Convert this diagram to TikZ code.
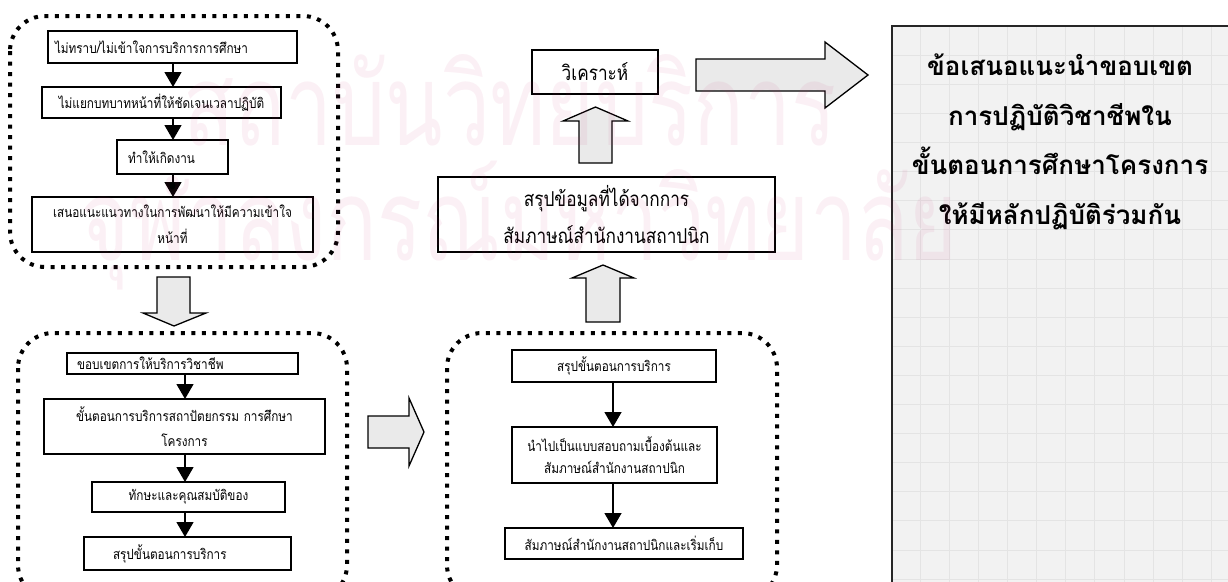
\documentclass[tikz,border=0pt]{standalone}
\usepackage{fontspec}
\usetikzlibrary{arrows.meta}
\newfontfamily\thai[Script=Thai]{Loma}
\newfontfamily\thainarrow[Script=Thai,FakeStretch=0.84]{Loma}
\definecolor{wmpink}{RGB}{205,45,115}
\definecolor{panelfill}{RGB}{242,242,242}
\definecolor{panelgrid}{RGB}{228,228,228}
\definecolor{arrowfill}{RGB}{234,234,234}

\begin{document}
\begin{tikzpicture}[x=1pt,y=-1pt,
  stepbox/.style={draw=black, line width=1.5pt, inner ysep=0pt, outer sep=0pt,
    font=\thainarrow\fontsize{14}{26}\selectfont},
  flow/.style={line width=1.4pt, -{Triangle[width=17pt,length=15pt]}},
  group/.style={line width=4pt, dash pattern=on 4pt off 6.5pt, rounded corners=35pt},
  blockarrow/.style={draw=black, line width=1.3pt, fill=arrowfill, line join=miter},
  bigtext/.style={font=\thainarrow\fontsize{20.5}{37}\selectfont},
  wm/.style={text=wmpink, opacity=0.07, font=\thai\fontsize{84}{100}\selectfont, yscale=1.35, xscale=1}
]
\clip (0,0) rectangle (1228,581);
\fill[white] (0,0) rectangle (1228,581);

% recommendation panel with its faint grid
\fill[panelfill] (892,26) rectangle (1240,600);
\foreach \k in {1,...,12} \draw[panelgrid, line width=0.6pt] (891+29.1*\k,27) -- (891+29.1*\k,600);
\foreach \k in {1,...,20} \draw[panelgrid, line width=0.6pt] (893,26+29.1*\k) -- (1240,26+29.1*\k);
\draw[line width=2pt, draw=black!85] (1240,26) -- (892,26) -- (892,600);
\node[font=\thai\bfseries\fontsize{26}{49.5}\selectfont, align=center] (rec) at (1060,142)
  {ข้อเสนอแนะนำขอบเขต\\การปฏิบัติวิชาชีพใน\\ขั้นตอนการศึกษาโครงการ\\ให้มีหลักปฏิบัติร่วมกัน};

% group 1: problems
\draw[group] (10,16) rectangle (338,267);
\node[stepbox, minimum width=249pt, minimum height=32pt, text width=235pt, inner xsep=7pt, align=left] (p1) at (172.5,47) {ไม่ทราบ/ไม่เข้าใจการบริการการศึกษา};
\node[stepbox, minimum width=239pt, minimum height=31pt, text width=229pt, inner xsep=5pt, align=center] (p2) at (161.5,102.5) {ไม่แยกบทบาทหน้าที่ให้ชัดเจนเวลาปฏิบัติ};
\node[stepbox, minimum width=111pt, minimum height=34pt, text width=89pt, inner xsep=11pt, align=left] (p3) at (172.5,157) {ทำให้เกิดงาน};
\node[stepbox, minimum width=281pt, minimum height=55pt, text width=271pt, inner xsep=5pt, align=center] (p4) at (172.5,224.5) {เสนอแนะแนวทางในการพัฒนาให้มีความเข้าใจ\\หน้าที่};
\draw[flow] ([xshift=0.5]p1.south) -- ([xshift=0.5]p1.south |- p2.north);
\draw[flow] ([xshift=0.5]p3.north |- p2.south) -- ([xshift=0.5]p3.north);
\draw[flow] ([xshift=0.5]p3.south) -- ([xshift=0.5]p3.south |- p4.north);

% group 2: scope of service
\draw[group] (18,333) rectangle (347,600);
\node[stepbox, minimum width=231pt, minimum height=21pt, text width=211pt, inner xsep=10pt, align=left] (s1) at (182.5,363.5) {ขอบเขตการให้บริการวิชาชีพ};
\node[stepbox, minimum width=281pt, minimum height=55pt, text width=271pt, inner xsep=5pt, align=center, font=\thainarrow\fontsize{14}{25}\selectfont] (s2) at (184.5,426.5) {ขั้นตอนการบริการสถาปัตยกรรม การศึกษา\\โครงการ};
\node[stepbox, minimum width=193pt, minimum height=30pt, text width=183pt, inner xsep=5pt, align=center] (s3) at (188.5,497) {ทักษะและคุณสมบัติของ};
\node[stepbox, minimum width=207pt, minimum height=33pt, text width=149pt, inner xsep=29pt, align=left] (s4) at (187.5,553.5) {สรุปขั้นตอนการบริการ};
\draw[flow] ([xshift=2.5]s1.south) -- ([xshift=2.5]s1.south |- s2.north);
\draw[flow] ([xshift=0.5]s2.south) -- ([xshift=0.5]s2.south |- s3.north);
\draw[flow] ([xshift=-3.5]s3.south) -- ([xshift=-3.5]s3.south |- s4.north);

% group 3: interviews
\draw[group] (447,333) rectangle (777,600);
\node[stepbox, minimum width=204pt, minimum height=32pt, text width=194pt, inner xsep=5pt, align=center] (i1) at (614,366) {สรุปขั้นตอนการบริการ};
\node[stepbox, minimum width=205pt, minimum height=56pt, text width=195pt, inner xsep=5pt, align=center, font=\thainarrow\fontsize{14}{22}\selectfont] (i2) at (614.5,455) {นำไปเป็นแบบสอบถามเบื้องต้นและ\\สัมภาษณ์สำนักงานสถาปนิก};
\node[stepbox, minimum width=238pt, minimum height=31pt, text width=228pt, inner xsep=5pt, align=center] (i3) at (624,543.5) {สัมภาษณ์สำนักงานสถาปนิกและเริ่มเก็บ};
\draw[flow] ([xshift=-1]i1.south) -- ([xshift=-1]i1.south |- i2.north);
\draw[flow] ([xshift=-1.5]i2.south) -- ([xshift=-1.5]i2.south |- i3.north);

% summary and analysis
\node[stepbox, bigtext, minimum width=337pt, minimum height=75pt, text width=327pt, inner xsep=5pt, align=center] (sum) at (606.5,214.5) {สรุปข้อมูลที่ได้จากการ\\สัมภาษณ์สำนักงานสถาปนิก};
\node[stepbox, bigtext, minimum width=126pt, minimum height=44pt, text width=116pt, inner xsep=5pt, align=center] (ana) at (595,72) {วิเคราะห์};

% block arrows between the stages
\draw[blockarrow] (157,277) -- (190,277) -- (190,313) -- (206,313) -- (174,326) -- (143,313) -- (157,313) -- cycle;
\draw[blockarrow] (368,416) -- (409,416) -- (409,398) -- (424,432) -- (409,466) -- (409,448) -- (368,448) -- cycle;
\draw[blockarrow] (586,322) -- (586,278) -- (572,278) -- (603,265) -- (634,278) -- (620,278) -- (620,322) -- cycle;
\draw[blockarrow] (579,163) -- (579,121) -- (563,121) -- (595.5,107) -- (628,121) -- (612,121) -- (612,163) -- cycle;
\draw[blockarrow] (696,59) -- (825,59) -- (825,42) -- (868,75) -- (825,108) -- (825,91) -- (696,91) -- cycle;

% faint institutional watermark
\node[wm] (wm1) at (510,100) {สถาบันวิทยบริการ};
\node[wm] (wm2) at (519,226) {จุฬาลงกรณ์มหาวิทยาลัย};
\end{tikzpicture}
\end{document}
